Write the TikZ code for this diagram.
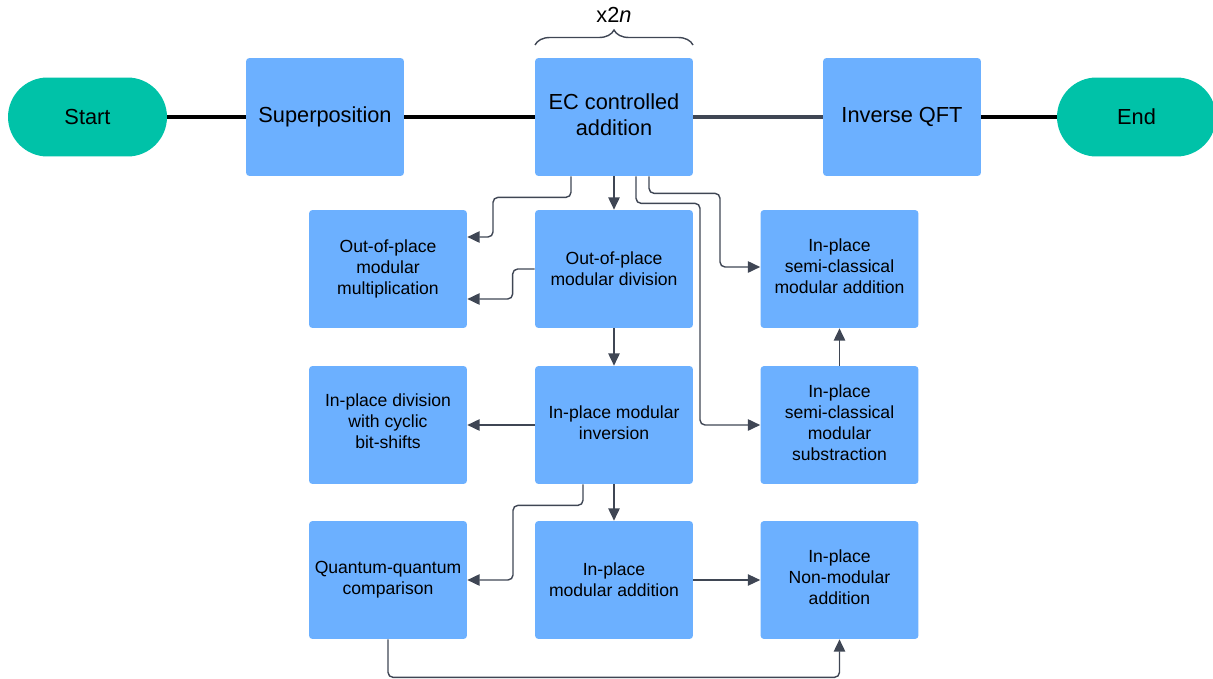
\documentclass[tikz,border=0pt]{standalone}
\usepackage{fontspec}
\setmainfont{Liberation Sans}
\usetikzlibrary{arrows.meta,calc,decorations.pathreplacing}
\definecolor{boxblue}{HTML}{6CB0FF}
\definecolor{teal}{HTML}{00C2A8}
\definecolor{linegray}{HTML}{3F4654}
\begin{document}
\begin{tikzpicture}[x=0.02cm,y=-0.02cm,
  bigbox/.style={rectangle,fill=boxblue,rounded corners=0.07cm,minimum width=3.16cm,minimum height=2.36cm,inner sep=0pt,align=center,font=\fontsize{12.4}{14.7}\selectfont},
  smallbox/.style={rectangle,fill=boxblue,rounded corners=0.07cm,minimum width=3.16cm,minimum height=2.36cm,inner sep=0pt,align=center,font=\fontsize{10}{11.9}\selectfont},
  pill/.style={rectangle,fill=teal,rounded corners=0.79cm,minimum width=3.18cm,minimum height=1.58cm,inner sep=0pt,font=\fontsize{12.4}{14.7}\selectfont},
  mainline/.style={line width=2pt,black},
  arr/.style={draw=linegray,line width=0.8pt,rounded corners=0.1cm,-{Triangle[length=7pt,width=6.5pt]},color=linegray}
]
\useasboundingbox (0,0) rectangle (1213,679);
% top row
\node[pill] (start) at (87.5,117) {Start};
\node[bigbox] (sup) at (325,117) {Superposition};
\node[bigbox,text depth=2.3pt] (ec) at (614,117) {EC controlled\\addition};
\node[bigbox,text depth=2.3pt] (qft) at (902,117) {Inverse QFT};
\node[pill] (end) at (1136.5,117) {End};
% grid
\node[smallbox] (mul) at (388,269) {Out-of-place\\modular\\multiplication};
\node[smallbox] (div) at (614,269) {Out-of-place\\modular division};
\node[smallbox,text depth=3.4pt] (sadd) at (839.5,269) {In-place\\semi-classical\\modular addition};
\node[smallbox,text depth=4.5pt] (bit) at (388,425) {In-place division\\with cyclic\\bit-shifts};
\node[smallbox,text depth=2.3pt] (inv) at (614,425) {In-place modular\\inversion};
\node[smallbox,text depth=2.3pt] (ssub) at (839.5,425) {In-place\\semi-classical\\modular\\substraction};
\node[smallbox] (cmp) at (388,580) {Quantum-quantum\\comparison};
\node[smallbox] (madd) at (614,580) {In-place\\modular addition};
\node[smallbox,text depth=3.4pt] (nadd) at (839.5,580) {In-place\\Non-modular\\addition};
% main line
\draw[mainline] (start.east) -- (sup.west);
\draw[mainline] (sup.east) -- (ec.west);
\draw[mainline,linegray] (ec.east) -- (qft.west);
\draw[mainline] (qft.east) -- (end.west);
% brace
\coordinate (bl) at (535,45);
\coordinate (br) at (693,45);
\draw[linegray,line width=0.8pt,decorate,decoration={brace,amplitude=0.3cm}] (bl) -- (br)
  node[midway,above=0.32cm,black,font=\fontsize{12.4}{14.7}\selectfont] {x2\textit{n}};
% connectors
\draw[arr] ($(ec.south)+(-43,0)$) -- ++(0,21) -- ++(-78,0) |- ($(mul.east)+(0,-32)$);
\draw[arr] (ec.south) -- (div.north);
\draw[arr] ($(ec.south)+(22,0)$) -- ++(0,27) -- ++(64,0) |- (ssub.west);
\draw[arr] ($(ec.south)+(35,0)$) -- ++(0,17) -- ++(71,0) |- ($(sadd.west)+(0,-2)$);
\draw[arr] (div.west) -- ++(-22,0) |- ($(mul.east)+(0,30)$);
\draw[arr] (div.south) -- (inv.north);
\draw[arr] (inv.west) -- (bit.east);
\draw[arr] ($(inv.south)+(-31,0)$) -- ++(0,21) -- ++(-70,0) |- (cmp.east);
\draw[arr] (inv.south) -- (madd.north);
\draw[arr,line width=0.6pt] (madd.east) -- (nadd.west);
\draw[arr] (cmp.south) -- ++(0,38) -| (nadd.south);
\draw[arr] (ssub.north) -- (sadd.south);
\end{tikzpicture}
\end{document}
